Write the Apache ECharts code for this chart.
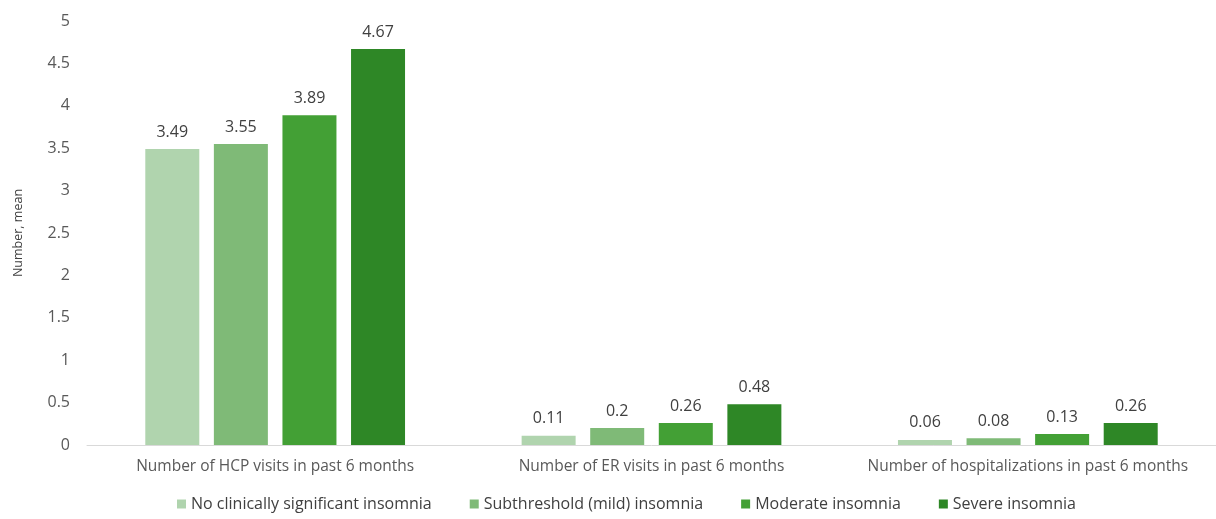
<!DOCTYPE html>
<html>
<head>
<meta charset="utf-8">
<script src="https://cdn.jsdelivr.net/npm/echarts@6/dist/echarts.min.js"></script>
<style>
  html, body { margin: 0; padding: 0; background: #fff; }
  #chart { width: 1216px; height: 519px; }
</style>
</head>
<body>
<div id="chart"></div>
<script>
// Healthcare resource use by insomnia severity
const categories = [
  'Number of HCP visits in past 6 months',
  'Number of ER visits in past 6 months',
  'Number of hospitalizations in past 6 months'
];
const seriesNames = [
  'No clinically significant insomnia',
  'Subthreshold (mild) insomnia',
  'Moderate insomnia',
  'Severe insomnia'
];
const noInsomnia = [3.49, 0.11, 0.06];
const mildInsomnia = [3.55, 0.2, 0.08];
const moderateInsomnia = [3.89, 0.26, 0.13];
const severeInsomnia = [4.67, 0.48, 0.26];
const yTicks = [0, 0.5, 1, 1.5, 2, 2.5, 3, 3.5, 4, 4.5, 5];

const colors = ['#b0d4ae', '#7fba77', '#43a035', '#2e8726'];
const seriesData = [noInsomnia, mildInsomnia, moderateInsomnia, severeInsomnia];
const font = "'Open Sans', 'Noto Sans', sans-serif";

const chart = echarts.init(document.getElementById('chart'), null, { renderer: 'canvas' });
chart.setOption({
  animation: false,
  color: colors,
  grid: { left: 87, right: 0, top: 21, bottom: 74, containLabel: false },
  legend: {
    bottom: 2,
    left: 172,
    itemWidth: 9,
    itemHeight: 9,
    itemGap: 38,
    icon: 'rect',
    textStyle: { fontFamily: "'Liberation Sans Narrow', 'Open Sans', sans-serif", fontSize: 16, color: '#404040' },
    data: seriesNames
  },
  xAxis: {
    type: 'category',
    data: categories,
    axisLine: { lineStyle: { color: '#d9d9d9', width: 1 } },
    axisTick: { show: false },
    axisLabel: { interval: 0, fontFamily: font, fontSize: 15.5, color: '#595959', margin: 14 }
  },
  yAxis: {
    type: 'value',
    min: yTicks[0],
    max: yTicks[yTicks.length - 1],
    interval: 0.5,
    name: 'Number, mean',
    nameLocation: 'middle',
    nameGap: 62,
    nameTextStyle: { fontFamily: font, fontSize: 12.5, color: '#404040' },
    axisLine: { show: false },
    axisTick: { show: false },
    splitLine: { show: false },
    axisLabel: { fontFamily: font, fontSize: 16, color: '#595959', margin: 17 }
  },
  series: seriesNames.map((name, i) => ({
    name,
    type: 'bar',
    data: seriesData[i],
    barWidth: 54,
    barGap: '27%',
    itemStyle: { color: colors[i] },
    label: {
      show: true,
      position: 'top',
      distance: 9,
      fontFamily: font,
      fontSize: 16,
      color: '#404040'
    }
  }))
});
</script>
</body>
</html>
